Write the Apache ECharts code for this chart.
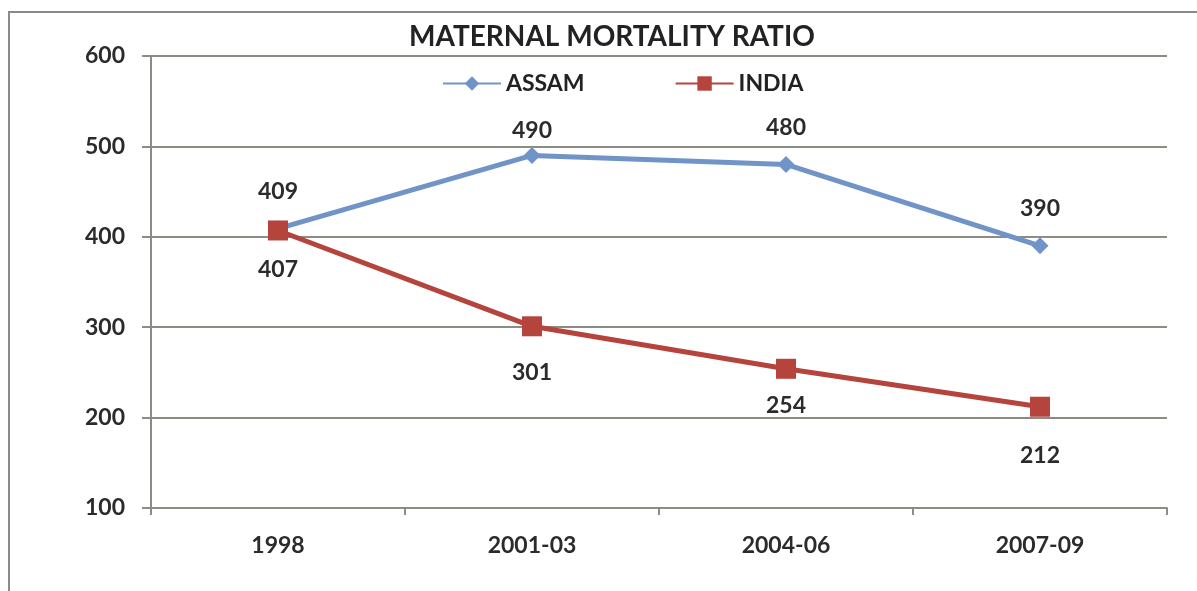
<!DOCTYPE html>
<html>
<head>
<meta charset="utf-8">
<script src="https://cdn.jsdelivr.net/npm/echarts@6/dist/echarts.min.js"></script>
<style>
  html, body { margin: 0; padding: 0; background: #ffffff; }
  #chart { width: 1197px; height: 591px; }
</style>
</head>
<body>
<div id="chart"></div>
<script>
// Maternal mortality ratio, Assam vs India
const periods = ['1998', '2001-03', '2004-06', '2007-09'];
const assam = [409, 490, 480, 390];
const india = [407, 301, 254, 212];

// Gap between each marker and its value label (hand-placed labels)
const assamLabelGap = [17, 5, 17, 17];
const indiaLabelGap = [18, 25, 15, 27];

const FONT = 'Lato, "Open Sans", sans-serif';
const TEXT = '#2b2b2b';
const BLUE = '#7094c7';
const RED = '#b5443d';
const GRID = '#8c8c84';

const withGaps = (values, gaps) =>
  values.map((v, i) => ({ value: v, label: { distance: gaps[i] } }));

const chart = echarts.init(document.getElementById('chart'));
chart.setOption({
  backgroundColor: '#ffffff',
  animation: false,
  title: {
    text: 'MATERNAL MORTALITY RATIO',
    left: 404,
    top: 18,
    textStyle: { fontFamily: FONT, fontWeight: 'bold', fontSize: 28, color: '#222222' }
  },
  legend: {
    top: 67,
    left: 437,
    itemGap: 90,
    itemWidth: 58,
    itemHeight: 18,
    textStyle: { fontFamily: FONT, fontWeight: 'bold', fontSize: 23, color: '#222222' },
    data: ['ASSAM', 'INDIA']
  },
  graphic: [{
    type: 'rect',
    shape: { x: 9, y: 12, width: 1200, height: 600 },
    style: { fill: 'none', stroke: '#8a8a86', lineWidth: 2 },
    silent: true
  }],
  grid: { left: 151, right: 30, top: 56, bottom: 83 },
  xAxis: {
    type: 'category',
    data: periods,
    boundaryGap: true,
    axisLine: { lineStyle: { color: GRID, width: 2 } },
    axisTick: { show: true, length: 7, lineStyle: { color: GRID, width: 2 } },
    axisLabel: { margin: 26, fontFamily: FONT, fontWeight: 'bold', fontSize: 23, color: TEXT }
  },
  yAxis: {
    type: 'value',
    min: 100,
    max: 600,
    interval: 100,
    axisLine: { show: true, lineStyle: { color: GRID, width: 2 } },
    axisTick: { show: true, length: 9, lineStyle: { color: GRID, width: 2 } },
    splitLine: { lineStyle: { color: GRID, width: 2 } },
    axisLabel: { margin: 26, fontFamily: FONT, fontWeight: 'bold', fontSize: 23, color: TEXT }
  },
  series: [
    {
      name: 'ASSAM',
      type: 'line',
      data: withGaps(assam, assamLabelGap),
      symbol: 'diamond',
      symbolSize: 17,
      itemStyle: { color: BLUE },
      lineStyle: { color: BLUE, width: 5 },
      label: {
        show: true, position: 'top',
        fontFamily: FONT, fontWeight: 'bold', fontSize: 23, color: TEXT
      }
    },
    {
      name: 'INDIA',
      type: 'line',
      data: withGaps(india, indiaLabelGap),
      symbol: 'rect',
      symbolSize: 20,
      itemStyle: { color: RED },
      lineStyle: { color: RED, width: 5 },
      label: {
        show: true, position: 'bottom',
        fontFamily: FONT, fontWeight: 'bold', fontSize: 23, color: TEXT
      }
    }
  ]
});
</script>
</body>
</html>
